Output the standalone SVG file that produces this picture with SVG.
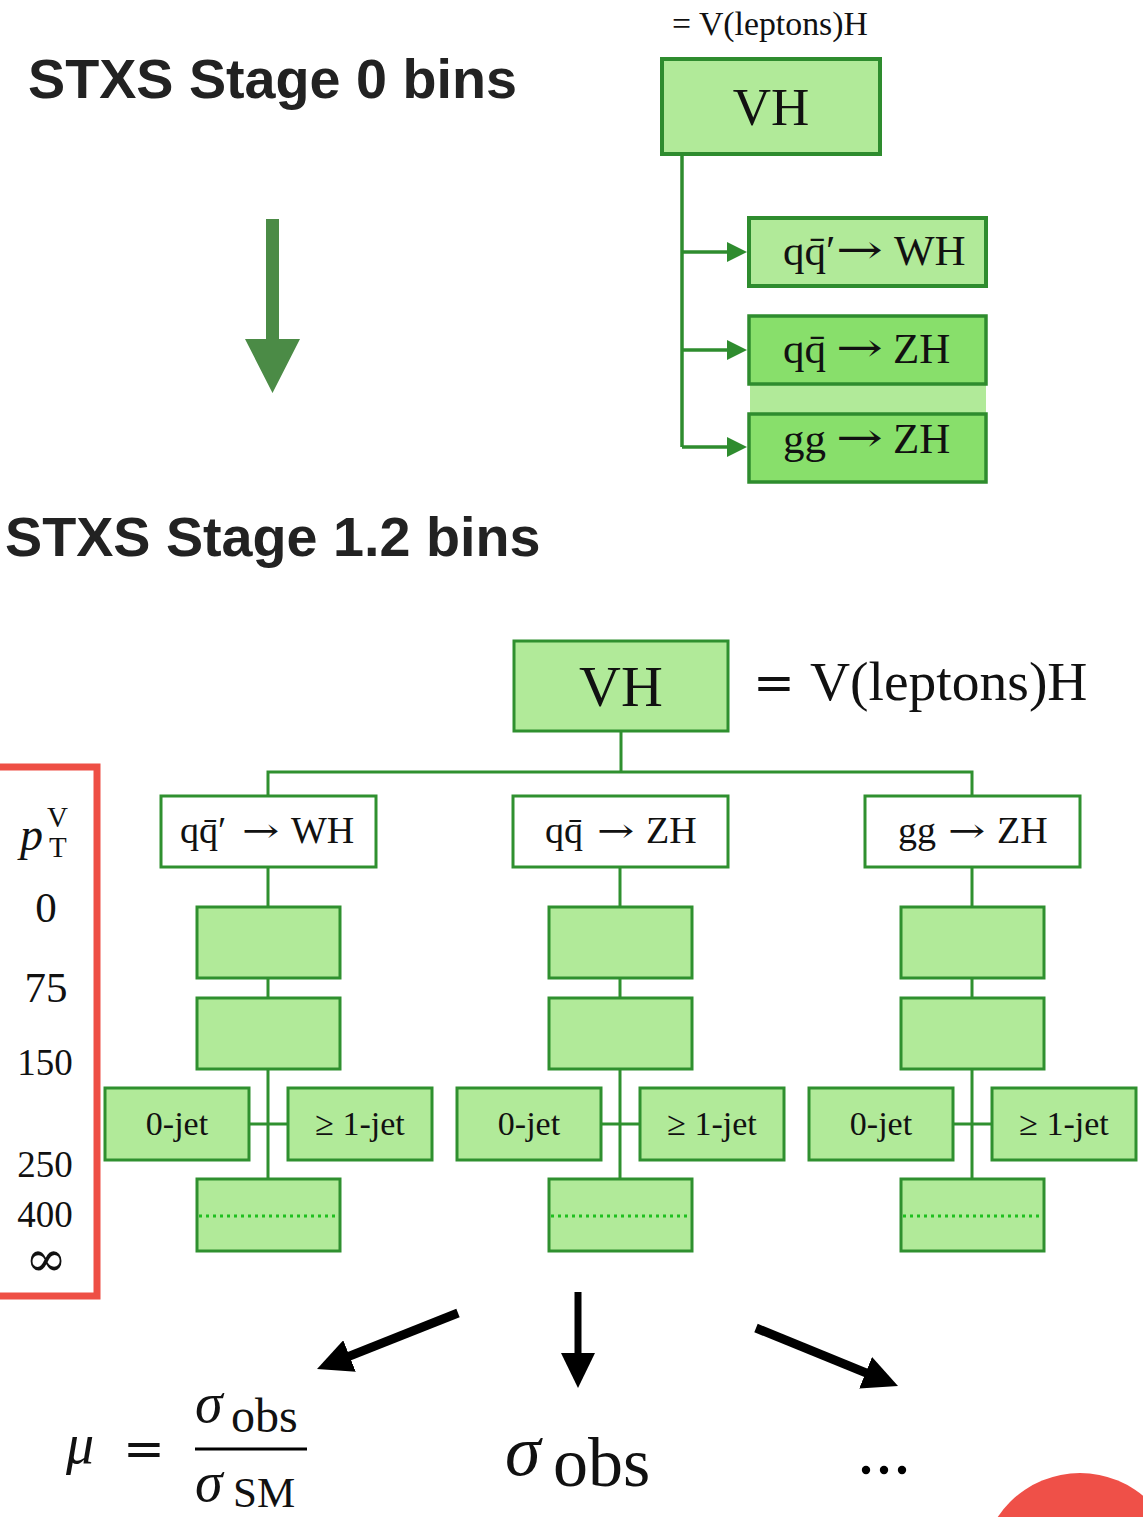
<svg xmlns="http://www.w3.org/2000/svg" width="1143" height="1517" viewBox="0 0 1143 1517">
  <style>
    .title { font-family: "Liberation Sans", Arial, sans-serif; font-weight: bold; font-size: 55.7px; fill: #222222; }
    .tex { font-family: "Liberation Serif", "Times New Roman", serif; fill: #111111; }
    .it { font-style: italic; }
    .sym { font-family: "DejaVu Serif", "Liberation Serif", serif; }
    .box0 { fill: #b1ea99; stroke: #2e8c2e; stroke-width: 4; }
    .box0d { fill: #88df6b; stroke: #2e8c2e; stroke-width: 3.5; }
    .boxw { fill: #ffffff; stroke: #2f902f; stroke-width: 3; }
    .boxg { fill: #b1ea99; stroke: #2f902f; stroke-width: 3; }
    .tree { fill: none; stroke: #2f902f; stroke-width: 3; }
    .tree0 { fill: none; stroke: #2e8c2e; stroke-width: 3.5; }
    .dots { stroke: #1fbf1f; stroke-width: 3; stroke-dasharray: 3 4; }
    .blk { fill: none; stroke: #000000; }
  </style>
  <defs>
    <marker id="gHead" markerUnits="userSpaceOnUse" markerWidth="20" markerHeight="20" refX="13" refY="10" orient="auto">
      <path d="M0,0 L20,10 L0,20 Z" fill="#2e8c2e"/>
    </marker>
    <marker id="kHead" markerUnits="userSpaceOnUse" markerWidth="35" markerHeight="34" refX="15" refY="17" orient="auto">
      <path d="M0,0 L35,17 L0,34 Z" fill="#000000"/>
    </marker>
  </defs>

  <rect width="1143" height="1517" fill="#ffffff"/>

  <!-- headings -->
  <text class="title" x="28" y="98">STXS Stage 0 bins</text>
  <text class="title" x="5" y="556">STXS Stage 1.2 bins</text>

  <!-- connectors -->
  <g id="connectors">
    <!-- big green transition arrow -->
    <path d="M266,219 H279 V339 H300 L272.5,393 L245,339 H266 Z" fill="#4b8b46"/>
    <!-- stage 0 tree -->
    <path class="tree0" d="M682,156 V447"/>
    <line class="tree0" x1="682" y1="252" x2="740" y2="252" marker-end="url(#gHead)"/>
    <line class="tree0" x1="682" y1="350" x2="740" y2="350" marker-end="url(#gHead)"/>
    <line class="tree0" x1="682" y1="447" x2="740" y2="447" marker-end="url(#gHead)"/>
    <!-- stage 1.2 tree -->
    <path class="tree" d="M621,731 V772 M268,795 V772 H972 V795"/>
    <path class="tree" d="M268,867 V1179 M249,1124 H288"/>
    <path class="tree" d="M620,867 V1179 M601,1124 H640"/>
    <path class="tree" d="M972,867 V1179 M953,1124 H992"/>
    <!-- outcome arrows -->
    <line class="blk" stroke-width="9" x1="458" y1="1313" x2="335.6" y2="1361.6" marker-end="url(#kHead)"/>
    <line class="blk" stroke-width="7" x1="578" y1="1292" x2="578" y2="1368" marker-end="url(#kHead)"/>
    <line class="blk" stroke-width="9" x1="756" y1="1328" x2="879.5" y2="1378.4" marker-end="url(#kHead)"/>
  </g>

  <!-- stage 0 nodes -->
  <text class="tex" x="672" y="35" font-size="33.8">= V(leptons)H</text>
  <g id="s0-vh">
    <rect class="box0" x="662" y="59" width="218" height="95"/>
    <text class="tex" x="771" y="125" font-size="53" text-anchor="middle">VH</text>
  </g>
  <g id="s0-qqWH">
    <rect class="box0" x="749" y="218" width="237" height="68" stroke-width="3.5"/>
    <text class="tex" x="783" y="265" font-size="43">qq̄′</text>
    <text class="tex sym" font-size="40" transform="translate(836,263) scale(1.4,1)">→</text>
    <text class="tex" x="894" y="265" font-size="43">WH</text>
  </g>
  <rect x="750" y="385" width="236" height="28" fill="#b1ea99"/>
  <g id="s0-qqZH">
    <rect class="box0d" x="749" y="316" width="237" height="68"/>
    <text class="tex" x="783" y="363" font-size="43">qq̄</text>
    <text class="tex sym" font-size="40" transform="translate(836,361) scale(1.4,1)">→</text>
    <text class="tex" x="893" y="363" font-size="43">ZH</text>
  </g>
  <g id="s0-ggZH">
    <rect class="box0d" x="749" y="414" width="237" height="68"/>
    <text class="tex" x="783" y="453" font-size="43">gg</text>
    <text class="tex sym" font-size="40" transform="translate(836,451) scale(1.4,1)">→</text>
    <text class="tex" x="893" y="453" font-size="43">ZH</text>
  </g>

  <!-- stage 1.2 nodes -->
  <g id="s1-vh">
    <rect class="boxg" x="514" y="641" width="214" height="90"/>
    <text class="tex" x="621" y="706" font-size="58" text-anchor="middle">VH</text>
  </g>
  <text class="tex" y="700" font-size="55.5"><tspan class="sym" x="753" font-size="50">=</tspan><tspan x="810">V(leptons)H</tspan></text>

  <g id="wh-head">
    <rect class="boxw" x="161" y="796" width="215" height="71"/>
    <text class="tex" x="180" y="843" font-size="38">qq̄′</text>
    <text class="tex sym" font-size="33" transform="translate(242,842) scale(1.35,1)">→</text>
    <text class="tex" x="291" y="843" font-size="38">WH</text>
  </g>
  <g id="zh-head">
    <rect class="boxw" x="513" y="796" width="215" height="71"/>
    <text class="tex" x="545" y="843" font-size="38">qq̄</text>
    <text class="tex sym" font-size="33" transform="translate(597,842) scale(1.35,1)">→</text>
    <text class="tex" x="646" y="843" font-size="38">ZH</text>
  </g>
  <g id="gg-head">
    <rect class="boxw" x="865" y="796" width="215" height="71"/>
    <text class="tex" x="898" y="843" font-size="38">gg</text>
    <text class="tex sym" font-size="33" transform="translate(948,842) scale(1.35,1)">→</text>
    <text class="tex" x="997" y="843" font-size="38">ZH</text>
  </g>

  <!-- pT bins per process -->
  <g id="wh-bin1"><rect class="boxg" x="197" y="907" width="143" height="71"/></g>
  <g id="wh-bin2"><rect class="boxg" x="197" y="998" width="143" height="71"/></g>
  <g id="wh-0jet"><rect class="boxg" x="105" y="1088" width="144" height="72"/><text class="tex" x="177" y="1135" font-size="34" text-anchor="middle">0-jet</text></g>
  <g id="wh-1jet"><rect class="boxg" x="288" y="1088" width="144" height="72"/><text class="tex" x="360" y="1135" font-size="34" text-anchor="middle">≥ 1-jet</text></g>
  <g id="wh-bin4"><rect class="boxg" x="197" y="1179" width="143" height="72"/><line class="dots" x1="199" y1="1216" x2="338" y2="1216"/></g>

  <g id="zh-bin1"><rect class="boxg" x="549" y="907" width="143" height="71"/></g>
  <g id="zh-bin2"><rect class="boxg" x="549" y="998" width="143" height="71"/></g>
  <g id="zh-0jet"><rect class="boxg" x="457" y="1088" width="144" height="72"/><text class="tex" x="529" y="1135" font-size="34" text-anchor="middle">0-jet</text></g>
  <g id="zh-1jet"><rect class="boxg" x="640" y="1088" width="144" height="72"/><text class="tex" x="712" y="1135" font-size="34" text-anchor="middle">≥ 1-jet</text></g>
  <g id="zh-bin4"><rect class="boxg" x="549" y="1179" width="143" height="72"/><line class="dots" x1="551" y1="1216" x2="690" y2="1216"/></g>

  <g id="gg-bin1"><rect class="boxg" x="901" y="907" width="143" height="71"/></g>
  <g id="gg-bin2"><rect class="boxg" x="901" y="998" width="143" height="71"/></g>
  <g id="gg-0jet"><rect class="boxg" x="809" y="1088" width="144" height="72"/><text class="tex" x="881" y="1135" font-size="34" text-anchor="middle">0-jet</text></g>
  <g id="gg-1jet"><rect class="boxg" x="992" y="1088" width="144" height="72"/><text class="tex" x="1064" y="1135" font-size="34" text-anchor="middle">≥ 1-jet</text></g>
  <g id="gg-bin4"><rect class="boxg" x="901" y="1179" width="143" height="72"/><line class="dots" x1="903" y1="1216" x2="1042" y2="1216"/></g>

  <!-- pT(V) axis -->
  <g id="pt-axis">
    <rect x="-10" y="767" width="107" height="529" fill="none" stroke="#ee4f45" stroke-width="7"/>
    <text class="tex it" x="20" y="850" font-size="46">p</text>
    <text class="tex" x="47" y="827" font-size="29">V</text>
    <text class="tex" x="49" y="857" font-size="29">T</text>
    <text class="tex" x="46" y="922" font-size="43" text-anchor="middle">0</text>
    <text class="tex" x="46" y="1002" font-size="43" text-anchor="middle">75</text>
    <text class="tex" x="45" y="1075" font-size="37" text-anchor="middle">150</text>
    <text class="tex" x="45" y="1177" font-size="37" text-anchor="middle">250</text>
    <text class="tex" x="45" y="1227" font-size="37" text-anchor="middle">400</text>
    <text class="tex sym" x="46" y="1276" font-size="50" text-anchor="middle">∞</text>
  </g>

  <!-- outcomes -->
  <g id="mu">
    <text class="tex it" x="66" y="1463" font-size="56">μ</text>
    <text class="tex sym" x="123" y="1466" font-size="50">=</text>
    <text class="tex it" x="195" y="1422" font-size="56">σ</text>
    <text class="tex" x="231" y="1432" font-size="48">obs</text>
    <line x1="195" y1="1449" x2="307" y2="1449" stroke="#000000" stroke-width="3"/>
    <text class="tex it" x="195" y="1501" font-size="56">σ</text>
    <text class="tex" x="233" y="1507" font-size="43">SM</text>
  </g>
  <g id="sigma-obs">
    <text class="tex it" x="505" y="1475" font-size="72">σ</text>
    <text class="tex" x="553" y="1486" font-size="70">obs</text>
  </g>
  <g id="more">
    <circle cx="866" cy="1470" r="4.2" fill="#000000"/>
    <circle cx="884" cy="1470" r="4.2" fill="#000000"/>
    <circle cx="902" cy="1470" r="4.2" fill="#000000"/>
  </g>

  <circle cx="1080" cy="1572" r="99" fill="#ef5048"/>
</svg>
